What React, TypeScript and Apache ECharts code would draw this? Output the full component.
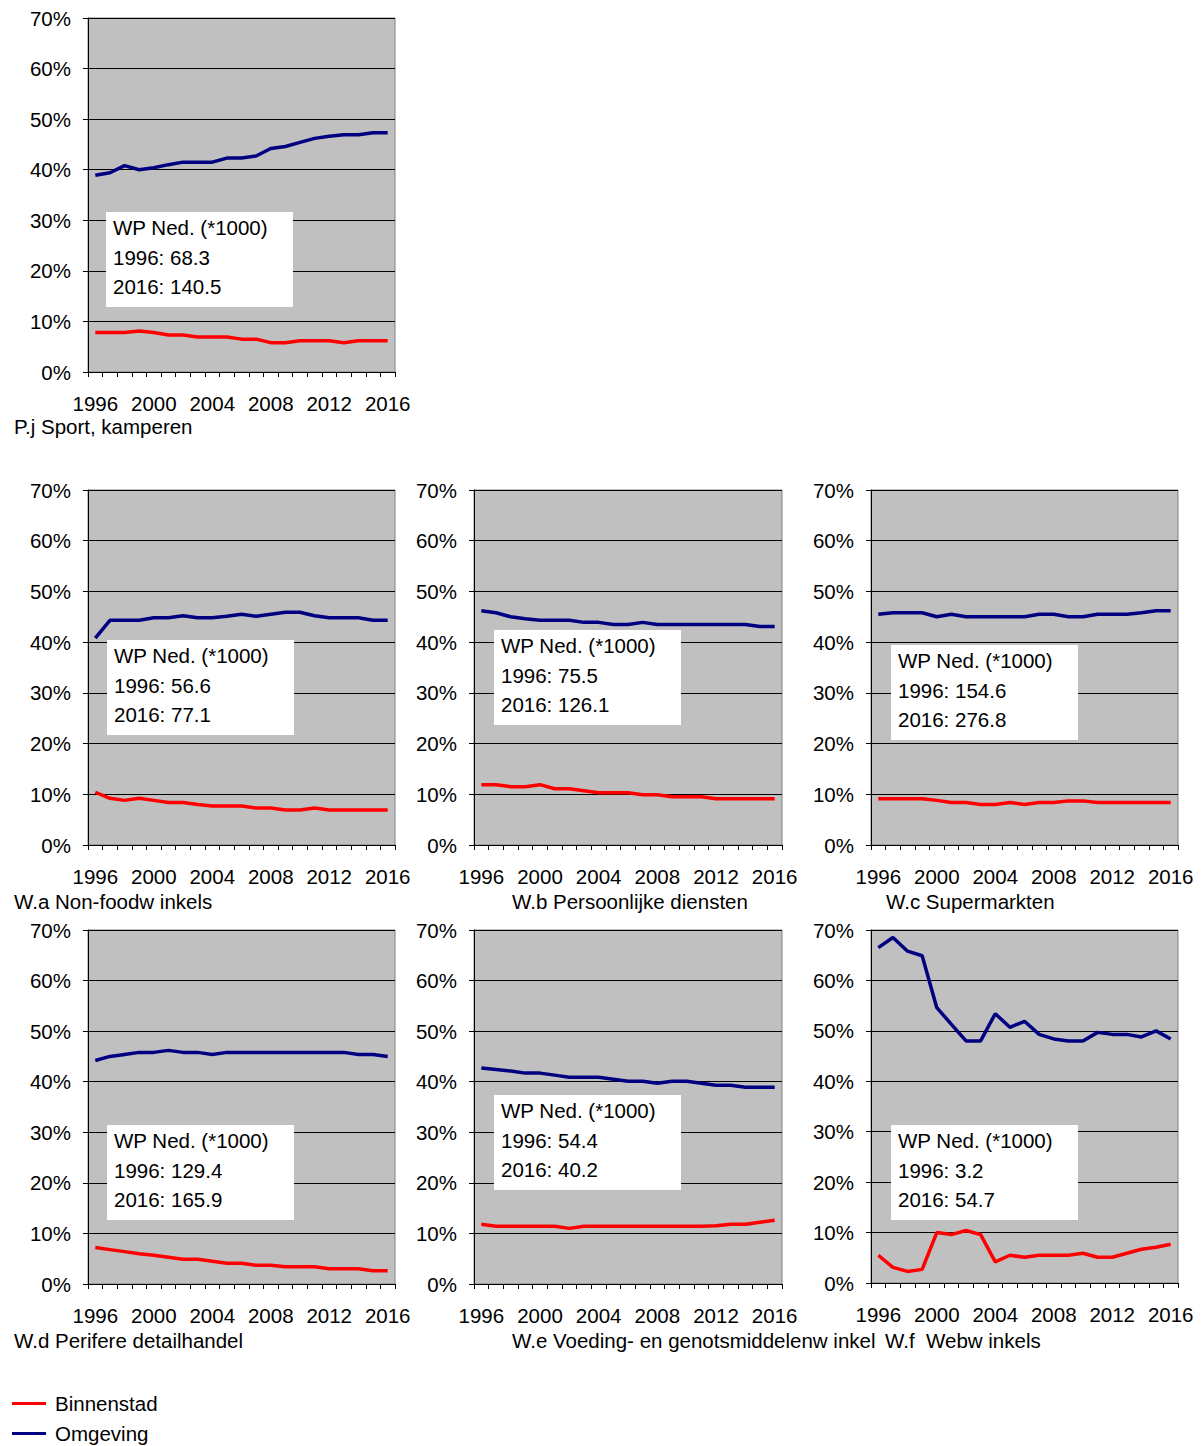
import React, { useEffect, useRef } from "react";
import * as echarts from "echarts";

const years = ["1996","1997","1998","1999","2000","2001","2002","2003","2004","2005","2006","2007","2008","2009","2010","2011","2012","2013","2014","2015","2016"];

const seriesNames = ["Binnenstad", "Omgeving"];

const pjBinnenstad = [7.8,7.8,7.8,8.1,7.8,7.3,7.3,6.9,6.9,6.9,6.5,6.5,5.8,5.8,6.2,6.2,6.2,5.8,6.2,6.2,6.2];
const pjOmgeving = [38.9,39.4,40.8,40.0,40.4,41.0,41.5,41.5,41.5,42.3,42.3,42.7,44.2,44.6,45.4,46.2,46.6,46.9,46.9,47.3,47.3];
const waBinnenstad = [10.4,9.2,8.8,9.2,8.8,8.4,8.4,8.0,7.7,7.7,7.7,7.3,7.3,6.9,6.9,7.3,6.9,6.9,6.9,6.9,6.9];
const waOmgeving = [40.8,44.3,44.3,44.3,44.8,44.8,45.2,44.8,44.8,45.1,45.5,45.1,45.5,45.9,45.9,45.2,44.8,44.8,44.8,44.3,44.3];
const wbBinnenstad = [11.9,11.9,11.5,11.5,11.9,11.1,11.1,10.7,10.3,10.3,10.3,9.9,9.9,9.5,9.5,9.5,9.1,9.1,9.1,9.1,9.1];
const wbOmgeving = [46.2,45.8,45.0,44.6,44.3,44.3,44.3,43.9,43.9,43.5,43.5,43.9,43.5,43.5,43.5,43.5,43.5,43.5,43.5,43.1,43.1];
const wcBinnenstad = [9.1,9.1,9.1,9.1,8.8,8.4,8.4,8.0,8.0,8.4,8.0,8.4,8.4,8.7,8.7,8.4,8.4,8.4,8.4,8.4,8.4];
const wcOmgeving = [45.5,45.8,45.8,45.8,45.0,45.5,45.0,45.0,45.0,45.0,45.0,45.5,45.5,45.0,45.0,45.5,45.5,45.5,45.8,46.2,46.2];
const wdBinnenstad = [7.2,6.8,6.4,6.0,5.7,5.3,4.9,4.9,4.5,4.1,4.1,3.7,3.7,3.4,3.4,3.4,3.0,3.0,3.0,2.6,2.6];
const wdOmgeving = [44.2,45.0,45.4,45.8,45.8,46.2,45.8,45.8,45.4,45.8,45.8,45.8,45.8,45.8,45.8,45.8,45.8,45.8,45.4,45.4,45.0];
const weBinnenstad = [11.8,11.4,11.4,11.4,11.4,11.4,11.0,11.4,11.4,11.4,11.4,11.4,11.4,11.4,11.4,11.4,11.5,11.8,11.8,12.2,12.6];
const weOmgeving = [42.7,42.4,42.1,41.7,41.7,41.3,40.9,40.9,40.9,40.5,40.1,40.1,39.7,40.1,40.1,39.7,39.3,39.3,38.9,38.9,38.9];
const wfBinnenstad = [5.5,3.1,2.3,2.7,10.0,9.6,10.4,9.6,4.2,5.5,5.1,5.5,5.5,5.5,5.9,5.1,5.1,5.9,6.7,7.1,7.7];
const wfOmgeving = [66.5,68.5,65.8,64.9,54.6,51.3,48.0,48.0,53.4,50.7,51.9,49.3,48.4,48.0,48.0,49.7,49.3,49.3,48.8,50.0,48.4];

const panelTitles = [
  "P.j Sport, kamperen",
  "W.a Non-foodw inkels",
  "W.b Persoonlijke diensten",
  "W.c Supermarkten",
  "W.d Perifere detailhandel",
  "W.e Voeding- en genotsmiddelenw inkel",
  "W.f  Webw inkels",
];
const wpHeader = "WP Ned. (*1000)";
const wp1996 = ["68.3", "56.6", "75.5", "154.6", "129.4", "54.4", "3.2"];
const wp2016 = ["140.5", "77.1", "126.1", "276.8", "165.9", "40.2", "54.7"];

const binnenstadData = [pjBinnenstad, waBinnenstad, wbBinnenstad, wcBinnenstad, wdBinnenstad, weBinnenstad, wfBinnenstad];
const omgevingData = [pjOmgeving, waOmgeving, wbOmgeving, wcOmgeving, wdOmgeving, weOmgeving, wfOmgeving];

// layout (pixels)
const gridLayout = [
  { left: 88, top: 18, width: 307, height: 354 },
  { left: 88, top: 490, width: 307, height: 355 },
  { left: 474, top: 490, width: 308, height: 355 },
  { left: 871, top: 490, width: 307, height: 355 },
  { left: 88, top: 930, width: 307, height: 354 },
  { left: 474, top: 930, width: 308, height: 354 },
  { left: 871, top: 930, width: 307, height: 353 },
];
const boxLayout = [
  { x: 106, y: 212 },
  { x: 107, y: 640 },
  { x: 494, y: 630 },
  { x: 891, y: 645 },
  { x: 107, y: 1125 },
  { x: 494, y: 1095 },
  { x: 891, y: 1125 },
];
const titleLayout = [
  { x: 14, y: 426 },
  { x: 14, y: 901 },
  { x: 512, y: 901 },
  { x: 886, y: 901 },
  { x: 14, y: 1340 },
  { x: 512, y: 1340 },
  { x: 885, y: 1340 },
];

const FONT = "'Liberation Sans', Arial, sans-serif";
const FONT_CSS = `20.5px ${FONT}`;
const RED = "#FF0000";
const BLUE = "#000080";

export default function App() {
  const ref = useRef<HTMLDivElement>(null);

  useEffect(() => {
    if (!ref.current) return;
    const chart = echarts.init(ref.current, null, { renderer: "svg" });

    const grid = gridLayout.map((g) => ({
      ...g,
      show: true,
      backgroundColor: "#C0C0C0",
      borderColor: "#808080",
      borderWidth: 1,
      containLabel: false,
    }));

    const xAxis = gridLayout.map((_, i) => ({
      type: "category",
      gridIndex: i,
      data: years,
      boundaryGap: true,
      axisLine: { show: true, lineStyle: { color: "#000", width: 1 } },
      axisTick: { show: true, interval: 0, length: 5, lineStyle: { color: "#000" } },
      axisLabel: {
        interval: 3,
        fontSize: 20.5,
        color: "#000",
        fontFamily: FONT,
        margin: 21,
      },
      splitLine: { show: false },
    }));

    const yAxis = gridLayout.map((_, i) => ({
      type: "value",
      gridIndex: i,
      min: 0,
      max: 70,
      interval: 10,
      axisLine: { show: true, lineStyle: { color: "#000", width: 1 } },
      axisTick: { show: true, length: 5, lineStyle: { color: "#000" } },
      axisLabel: {
        formatter: "{value}%",
        fontSize: 20.5,
        color: "#000",
        fontFamily: FONT,
        margin: 17,
      },
      splitLine: { show: true, lineStyle: { color: "#000", width: 1 } },
    }));

    const series: any[] = [];
    gridLayout.forEach((_, i) => {
      series.push({
        name: seriesNames[0],
        type: "line",
        xAxisIndex: i,
        yAxisIndex: i,
        data: binnenstadData[i],
        symbol: "none",
        lineStyle: { color: RED, width: 3.5 },
        itemStyle: { color: RED },
        z: 3,
      });
      series.push({
        name: seriesNames[1],
        type: "line",
        xAxisIndex: i,
        yAxisIndex: i,
        data: omgevingData[i],
        symbol: "none",
        lineStyle: { color: BLUE, width: 3.5 },
        itemStyle: { color: BLUE },
        z: 3,
      });
    });

    const graphic: any[] = [];
    boxLayout.forEach((b, i) => {
      graphic.push({
        type: "rect",
        x: b.x,
        y: b.y,
        z: 100,
        zlevel: 1,
        shape: { x: 0, y: 0, width: 187, height: 95 },
        style: { fill: "#fff" },
      });
      const lines = [wpHeader, `1996: ${wp1996[i]}`, `2016: ${wp2016[i]}`];
      const offs = [15, 45, 74];
      lines.forEach((txt, k) => {
        graphic.push({
          type: "text",
          x: b.x + 7,
          y: b.y + offs[k],
          z: 101,
          zlevel: 1,
          style: { text: txt, fill: "#000", font: FONT_CSS, textVerticalAlign: "middle" },
        });
      });
    });
    titleLayout.forEach((t, i) => {
      graphic.push({
        type: "text",
        x: t.x,
        y: t.y,
        z: 100,
        zlevel: 1,
        style: {
          text: panelTitles[i],
          fill: "#000",
          font: FONT_CSS,
          textVerticalAlign: "middle",
        },
      });
    });

    chart.setOption({
      animation: false,
      backgroundColor: "#fff",
      grid,
      xAxis,
      yAxis,
      series,
      graphic,
      legend: {
        data: [
          { name: seriesNames[0], itemStyle: { color: RED } },
          { name: seriesNames[1], itemStyle: { color: BLUE } },
        ],
        orient: "vertical",
        left: 12,
        top: 1393,
        padding: 0,
        icon: "rect",
        itemWidth: 34,
        itemHeight: 3,
        itemGap: 9,
        textStyle: { fontSize: 20.5, color: "#000", fontFamily: FONT, padding: [0, 0, 0, 4] },
      },
    });

    return () => chart.dispose();
  }, []);

  return (
    <div
      ref={ref}
      style={{ position: "absolute", left: 0, top: 0, width: 1202, height: 1446, background: "#fff" }}
    />
  );
}
